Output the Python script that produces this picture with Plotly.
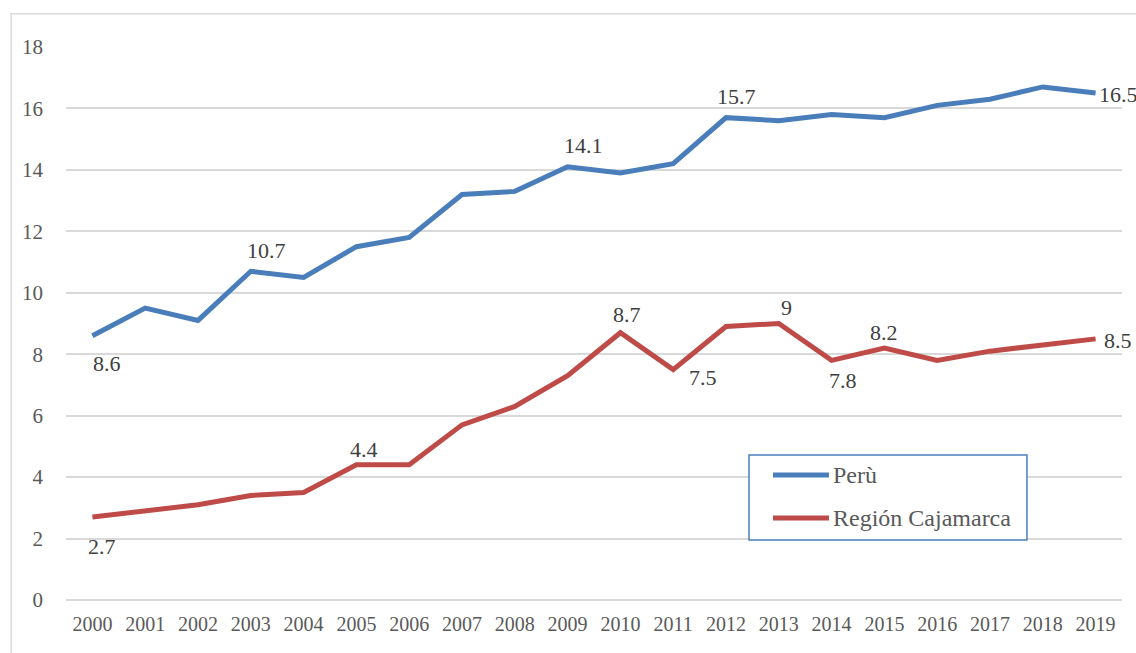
import plotly.graph_objects as go

years = [str(y) for y in range(2000, 2020)]
peru = [8.6, 9.5, 9.1, 10.7, 10.5, 11.5, 11.8, 13.2, 13.3, 14.1,
        13.9, 14.2, 15.7, 15.6, 15.8, 15.7, 16.1, 16.3, 16.7, 16.5]
cajamarca = [2.7, 2.9, 3.1, 3.4, 3.5, 4.4, 4.4, 5.7, 6.3, 7.3,
             8.7, 7.5, 8.9, 9.0, 7.8, 8.2, 7.8, 8.1, 8.3, 8.5]

# labelled points -> (xshift, yshift, xanchor) in pixels
peru_lbl = {"2000": (15, -28, "center"), "2003": (16, 21, "center"),
            "2009": (16, 21, "center"), "2012": (10, 21, "center"),
            "2019": (1, -1, "left")}
caja_lbl = {"2000": (10, -29, "center"), "2005": (8, 15, "center"),
            "2010": (7, 18, "center"), "2011": (30, -8, "center"),
            "2013": (8, 16, "center"), "2014": (11, -20, "center"),
            "2015": (0, 16, "center"), "2019": (6, -2, "left")}

FONT = "Liberation Serif, Times New Roman, serif"
BLUE = "#4A7EBB"
RED = "#BE4B48"

fig = go.Figure()
fig.add_trace(go.Scatter(x=years, y=peru, name="Perù", mode="lines",
                         line=dict(color=BLUE, width=5), showlegend=False))
fig.add_trace(go.Scatter(x=years, y=cajamarca, name="Región Cajamarca", mode="lines",
                         line=dict(color=RED, width=5), showlegend=False))

# data labels (category axis -> position by index)
for vals, spec in ((peru, peru_lbl), (cajamarca, caja_lbl)):
    for i, (y, v) in enumerate(zip(years, vals)):
        if y in spec:
            dx, dy, anchor = spec[y]
            fig.add_annotation(x=i, y=v, text=f"{v:g}", showarrow=False,
                               xanchor=anchor, yanchor="middle",
                               xshift=dx, yshift=dy,
                               font=dict(family=FONT, size=22, color="#404040"))

# outer chart border
fig.add_shape(type="rect", xref="paper", yref="paper",
              x0=-0.052, x1=1.03, y0=-0.1, y1=1.06,
              line=dict(color="#D9D9D9", width=1.5), layer="below")

# legend drawn by hand (Excel style box)
fig.add_shape(type="rect", xref="paper", yref="paper",
              x0=0.6468, x1=0.910, y0=0.1085, y1=0.2622,
              line=dict(color=BLUE, width=1.5), fillcolor="white")
for name, color, ly in (("Perù", BLUE, 0.226), ("Región Cajamarca", RED, 0.1483)):
    fig.add_shape(type="line", xref="paper", yref="paper",
                  x0=0.6695, x1=0.7225, y0=ly, y1=ly,
                  line=dict(color=color, width=5))
    fig.add_annotation(xref="paper", yref="paper", x=0.7244, y=ly, text=name,
                       showarrow=False, xanchor="left", yanchor="middle",
                       font=dict(family=FONT, size=24, color="#595959"))

fig.update_layout(
    width=1136, height=653,
    margin=dict(l=66, r=14, t=47, b=53),
    paper_bgcolor="white", plot_bgcolor="white",
    font=dict(family=FONT, size=20, color="#595959"),
    showlegend=False,
    xaxis=dict(type="category", range=[-0.5, 19.5], showgrid=False,
               showline=False, ticks="", ticklabelstandoff=10,
               tickfont=dict(size=20)),
    yaxis=dict(range=[0, 18], dtick=2, showgrid=True, gridcolor="#D9D9D9",
               gridwidth=1.5, zeroline=True, zerolinecolor="#D9D9D9",
               zerolinewidth=1.5, ticks="", ticklabelstandoff=22,
               tickfont=dict(size=21)),
)

# page without default body margin so the 1136x653 figure fills the window
fig.write_html("out.html", default_width="1136px", default_height="653px",
               config={"displayModeBar": False},
               post_script="document.body.style.margin='0';"
                           "document.body.style.overflow='hidden';")
